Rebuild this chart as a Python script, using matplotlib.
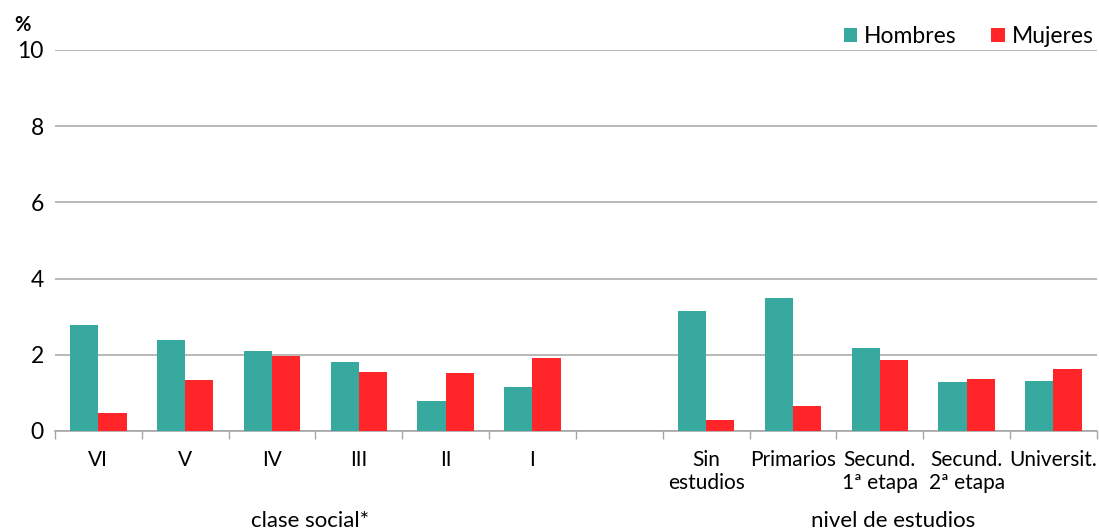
import numpy as np
import matplotlib
matplotlib.use("Agg")
import matplotlib.pyplot as plt

plt.rcParams['font.family'] = ['Lato', 'DejaVu Sans']

categories = ["VI", "V", "IV", "III", "II", "I", "",
              "Sin\nestudios", "Primarios", "Secund.\n1ª etapa",
              "Secund.\n2ª etapa", "Universit."]
hombres = [2.77, 2.39, 2.10, 1.80, 0.78, 1.16, np.nan, 3.16, 3.49, 2.19, 1.29, 1.30]
mujeres = [0.46, 1.35, 1.98, 1.54, 1.53, 1.92, np.nan, 0.30, 0.65, 1.85, 1.36, 1.63]
group_labels = ["clase social*", "nivel de estudios"]
y_ticks = [0, 2, 4, 6, 8, 10]

teal = "#37A99E"
red = "#FF2528"
grid_gray = "#A6A6A6"

fig = plt.figure(figsize=(10.99, 5.29), dpi=100)
ax = fig.add_axes([0.050, 0.1853, 0.948, 0.7202])

n = len(categories)
x = np.arange(n) + 0.5
w = 0.325
ax.bar(x - w / 2, hombres, width=w, color=teal, label="Hombres", zorder=3)
ax.bar(x + w / 2, mujeres, width=w, color=red, label="Mujeres", zorder=3)

ax.set_xlim(0, n)
ax.set_ylim(0, 10)
ax.set_yticks(y_ticks)
ax.tick_params(axis='y', length=0, labelsize=16.5, pad=8)
ax.yaxis.grid(True, color=grid_gray, linewidth=1.1, zorder=0)
ax.set_axisbelow(True)

ax.set_xticks(x)
ax.set_xticklabels(categories, fontsize=15, linespacing=1.15)
ax.tick_params(axis='x', which='major', length=0, pad=14)
ax.set_xticks(np.arange(n + 1), minor=True)
ax.tick_params(axis='x', which='minor', length=6, width=1, color=grid_gray, direction='out')

for s in ["top", "right", "left"]:
    ax.spines[s].set_visible(False)
ax.spines["bottom"].set_color(grid_gray)
ax.spines["bottom"].set_linewidth(1.2)

ax.text(2.94, -0.235, group_labels[0], transform=ax.get_xaxis_transform(),
        ha='center', va='center', fontsize=16)
ax.text(9.65, -0.235, group_labels[1], transform=ax.get_xaxis_transform(),
        ha='center', va='center', fontsize=16)

fig.text(22 / 1099, 1 - 25 / 529, "%", ha='center', va='center',
         fontsize=14.5, fontweight='bold')

leg = ax.legend(loc='lower right', bbox_to_anchor=(0.997, 1.008), ncol=2,
                frameon=False, fontsize=16.5, handlelength=0.6, handleheight=0.6,
                handletextpad=0.3, columnspacing=1.5, borderaxespad=0, borderpad=0)

fig.savefig("out.png", dpi=100)
